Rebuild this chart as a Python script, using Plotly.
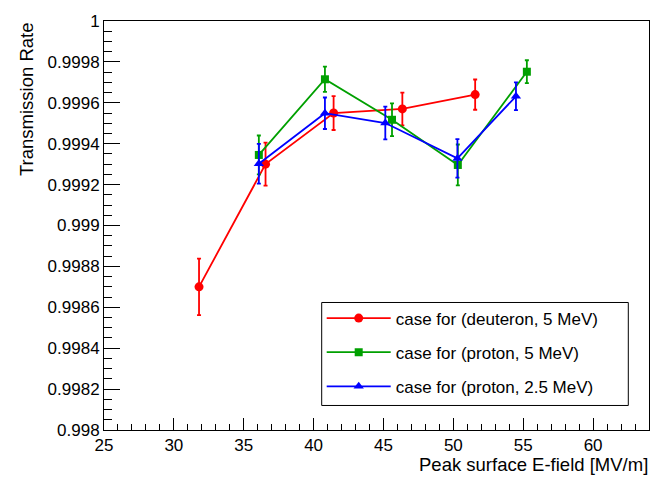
import plotly.graph_objects as go

# Transmission rate vs. peak surface field for three beam cases
deuteron_5_field = [31.8, 36.56, 41.43, 46.35, 51.56]
deuteron_5_rate = [0.99870, 0.99930, 0.99955, 0.99957, 0.99964]
deuteron_5_err = [0.000138, 0.000105, 0.000083, 0.000080, 0.000074]

proton_5_field = [36.08, 40.81, 45.61, 50.32, 55.26]
proton_5_rate = [0.999345, 0.999715, 0.999517, 0.999296, 0.999752]
proton_5_err = [0.000095, 0.000062, 0.000080, 0.000100, 0.000056]

proton_25_field = [36.08, 40.81, 45.13, 50.29, 54.48]
proton_25_rate = [0.999302, 0.999549, 0.999501, 0.999328, 0.999632]
proton_25_err = [0.000097, 0.000077, 0.000080, 0.000094, 0.000068]

series_names = ["case for (deuteron, 5 MeV)", "case for (proton, 5 MeV)",
                "case for (proton, 2.5 MeV)"]

y_tick_vals = [0.998, 0.9982, 0.9984, 0.9986, 0.9988, 0.999,
               0.9992, 0.9994, 0.9996, 0.9998, 1.0]
y_tick_text = ["0.998", "0.9982", "0.9984", "0.9986", "0.9988", "0.999",
               "0.9992", "0.9994", "0.9996", "0.9998", "1"]
x_tick_vals = [25, 30, 35, 40, 45, 50, 55, 60]
x_tick_text = ["25", "30", "35", "40", "45", "50", "55", "60"]

FONT = "Liberation Sans, Arial, Helvetica, sans-serif"

series = [
    (deuteron_5_field, deuteron_5_rate, deuteron_5_err, "#ff0000", "circle", 9),
    (proton_5_field, proton_5_rate, proton_5_err, "#00a000", "square", 8),
    (proton_25_field, proton_25_rate, proton_25_err, "#0000ff", "triangle-up", 9),
]

fig = go.Figure()
for i, (xs, ys, es, color, symbol, size) in enumerate(series):
    fig.add_trace(go.Scatter(
        x=xs, y=ys, name=series_names[i], legendgroup=f"g{i}",
        mode="lines+markers",
        line=dict(color=color, width=1.8),
        marker=dict(color=color, symbol=symbol, size=size),
        error_y=dict(type="data", array=es, visible=True, color=color,
                     thickness=1.8, width=2),
    ))

# legend frame
fig.add_shape(type="rect", xref="paper", yref="paper",
              x0=(321.7 - 104) / 545, x1=(628.3 - 104) / 545,
              y0=(430 - 405) / 417, y1=(430 - 300) / 417,
              line=dict(color="black", width=1), fillcolor="white", layer="below")

fig.update_layout(
    width=670, height=481,
    margin=dict(l=104, r=21, t=13, b=51),
    paper_bgcolor="white", plot_bgcolor="white",
    font=dict(family=FONT, size=17, color="black"),
    showlegend=True,
    legend=dict(
        x=(321.7 - 104) / 545, y=(430 - 298) / 417,
        xanchor="left", yanchor="top",
        bgcolor="rgba(0,0,0,0)", borderwidth=0,
        font=dict(family=FONT, size=17, color="black"),
        tracegroupgap=9, itemwidth=64,
    ),
    xaxis=dict(
        range=[25, 64], showgrid=False, zeroline=False,
        showline=True, linecolor="black", linewidth=1, mirror=True,
        ticks="inside", ticklen=12, tickcolor="black", tickwidth=1,
        tickvals=x_tick_vals, ticktext=x_tick_text,
        minor=dict(ticks="inside", ticklen=6, dtick=1, tickcolor="black", showgrid=False),
        tickfont=dict(family=FONT, size=17),
    ),
    yaxis=dict(
        range=[0.998, 1.0], showgrid=False, zeroline=False,
        showline=True, linecolor="black", linewidth=1, mirror=True,
        ticks="inside", ticklen=16, tickcolor="black", tickwidth=1,
        tickvals=y_tick_vals, ticktext=y_tick_text,
        minor=dict(ticks="inside", ticklen=8, dtick=0.00005, tickcolor="black", showgrid=False),
        tickfont=dict(family=FONT, size=17),
    ),
    annotations=[
        dict(text="Peak surface E-field [MV/m]", xref="paper", yref="paper",
             x=1.0, y=-(465 - 430) / 417, xanchor="right", yanchor="middle",
             showarrow=False, borderpad=0, font=dict(family=FONT, size=18.5)),
        dict(text="Transmission Rate", xref="paper", yref="paper",
             x=-(104 - 26) / 545, y=1.0, xanchor="center", yanchor="top",
             textangle=-90, showarrow=False, borderpad=0,
             font=dict(family=FONT, size=18.5)),
    ],
)

fig.write_html("out.html")
